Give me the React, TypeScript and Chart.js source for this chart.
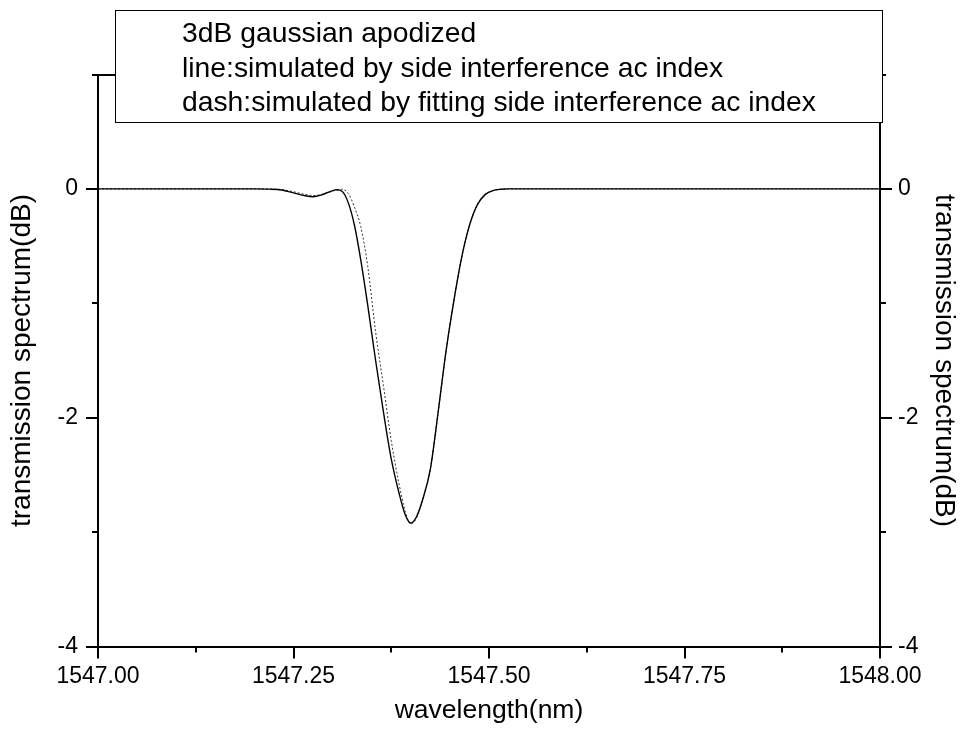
import React, { useEffect, useRef } from 'react';
import { Chart, registerables } from 'chart.js';

Chart.register(...registerables);

// ---- data ----
const wavelength = [
  1547.0, 1547.1, 1547.2, 1547.22, 1547.235, 1547.25, 1547.265, 1547.275, 1547.285, 1547.295,
  1547.305, 1547.312, 1547.32, 1547.328, 1547.336, 1547.345, 1547.355, 1547.365, 1547.375, 1547.385,
  1547.393, 1547.4, 1547.407, 1547.415, 1547.425, 1547.435, 1547.445, 1547.455, 1547.465, 1547.475,
  1547.485, 1547.495, 1547.505, 1547.515, 1547.525, 1547.6, 1547.8, 1548.0,
];
const solidLoss = [
  0, 0, 0, -0.002, -0.01, -0.035, -0.06, -0.068, -0.055, -0.028,
  -0.008, -0.02, -0.12, -0.32, -0.62, -1.02, -1.5, -1.95, -2.36, -2.66,
  -2.85, -2.92, -2.87, -2.72, -2.45, -1.95, -1.42, -0.98, -0.6, -0.32,
  -0.14, -0.05, -0.015, -0.003, 0, 0, 0, 0,
];
const dashedLoss = [
  0, 0, 0, -0.002, -0.006, -0.025, -0.048, -0.058, -0.05, -0.03,
  -0.01, -0.003, -0.04, -0.16, -0.33, -0.68, -1.25, -1.72, -2.2, -2.58,
  -2.82, -2.93, -2.88, -2.72, -2.45, -1.95, -1.42, -0.98, -0.6, -0.32,
  -0.14, -0.05, -0.015, -0.003, 0, 0, 0, 0,
];
const xMinorTicks = [1547.125, 1547.375, 1547.625, 1547.875];
const yMinorTicks = [-3, -1, 1];
const legendLines = [
  '3dB gaussian apodized',
  'line:simulated by side interference ac index',
  'dash:simulated by fitting side interference ac index',
];
const xTitle = 'wavelength(nm)';
const yTitle = 'transmission spectrum(dB)';

const FONT = '"Liberation Sans", Arial, sans-serif';

const overlayPlugin = {
  id: 'overlay',
  afterDraw(chart: any) {
    const { ctx, chartArea, scales } = chart;
    const { left, right, top, bottom } = chartArea;
    ctx.save();
    ctx.strokeStyle = '#000';
    ctx.lineWidth = 2;
    // top frame line
    ctx.beginPath();
    ctx.moveTo(left - 1, Math.round(top));
    ctx.lineTo(right + 1, Math.round(top));
    ctx.stroke();
    // minor ticks
    ctx.beginPath();
    xMinorTicks.forEach((v) => {
      const px = Math.round(scales.x.getPixelForValue(v));
      ctx.moveTo(px, bottom);
      ctx.lineTo(px, bottom + 6);
    });
    yMinorTicks.forEach((v) => {
      const py = Math.round(scales.y.getPixelForValue(v));
      ctx.moveTo(left - 6, py);
      ctx.lineTo(left, py);
      ctx.moveTo(right, py);
      ctx.lineTo(right + 6, py);
    });
    ctx.stroke();
    // legend box
    ctx.fillStyle = '#fff';
    ctx.fillRect(115, 10, 768, 113);
    ctx.lineWidth = 1;
    ctx.strokeRect(115.5, 10.5, 767, 112);
    ctx.fillStyle = '#000';
    ctx.font = `28.3px ${FONT}`;
    ctx.textBaseline = 'alphabetic';
    ctx.textAlign = 'left';
    const baselines = [42, 76.5, 111];
    legendLines.forEach((t, i) => ctx.fillText(t, 182, baselines[i]));
    ctx.restore();
  },
};

export default function App() {
  const ref = useRef<HTMLCanvasElement | null>(null);
  useEffect(() => {
    if (!ref.current) return;
    const tickFont = { family: FONT, size: 23 };
    const xTitleFont = { family: FONT, size: 26.5 };
    const yTitleFont = { family: FONT, size: 28 };
    const axisGrid = { drawOnChartArea: false, drawTicks: true, tickLength: 12, lineWidth: 2, color: '#000' };
    const axisBorder = { display: true, color: '#000', width: 2 };
    const chart = new Chart(ref.current, {
      type: 'line',
      data: {
        datasets: [
          {
            label: 'line',
            data: wavelength.map((x, i) => ({ x, y: solidLoss[i] })),
            borderColor: '#000',
            borderWidth: 1.4,
            pointRadius: 0,
            cubicInterpolationMode: 'monotone',
            fill: false,
            yAxisID: 'y',
          },
          {
            label: 'dash',
            data: wavelength.map((x, i) => ({ x, y: dashedLoss[i] })),
            borderColor: '#333',
            borderWidth: 1,
            borderDash: [2, 2],
            pointRadius: 0,
            cubicInterpolationMode: 'monotone',
            fill: false,
            yAxisID: 'y',
          },
        ],
      },
      options: {
        responsive: false,
        maintainAspectRatio: false,
        animation: false,
        devicePixelRatio: 1,
        layout: { padding: { top: 74.5, left: 0, right: 0, bottom: 0 } },
        plugins: { legend: { display: false }, tooltip: { enabled: false } },
        scales: {
          x: {
            type: 'linear',
            position: 'bottom',
            min: 1547,
            max: 1548,
            ticks: {
              stepSize: 0.25,
              autoSkip: false,
              maxRotation: 0,
              padding: 4,
              color: '#000',
              font: tickFont,
              callback: (v: any) => Number(v).toFixed(2),
            },
            grid: axisGrid,
            border: axisBorder,
            title: { display: true, text: xTitle, color: '#000', font: xTitleFont, padding: { top: 0, bottom: 16 } },
            afterFit: (s: any) => { s.height = 96.5; },
          },
          y: {
            type: 'linear',
            position: 'left',
            min: -4,
            max: 1,
            ticks: { stepSize: 2, includeBounds: false, padding: 8, color: '#000', font: tickFont },
            grid: axisGrid,
            border: axisBorder,
            title: { display: true, text: yTitle, color: '#000', font: yTitleFont, padding: { top: 5, bottom: 0 } },
            afterFit: (s: any) => { s.width = 98; },
          },
          y2: {
            type: 'linear',
            position: 'right',
            min: -4,
            max: 1,
            ticks: { stepSize: 2, includeBounds: false, padding: 6, color: '#000', font: tickFont },
            grid: axisGrid,
            border: axisBorder,
            title: { display: true, text: yTitle, color: '#000', font: yTitleFont, padding: { top: 5, bottom: 0 } },
            afterFit: (s: any) => { s.width = 86; },
          },
        },
      },
      plugins: [overlayPlugin],
    } as any);
    return () => chart.destroy();
  }, []);
  return (
    <div style={{ position: 'absolute', left: 0, top: 0, width: 966, height: 743, background: '#fff' }}>
      <canvas ref={ref} width={966} height={743} style={{ width: 966, height: 743, display: 'block' }} />
    </div>
  );
}
